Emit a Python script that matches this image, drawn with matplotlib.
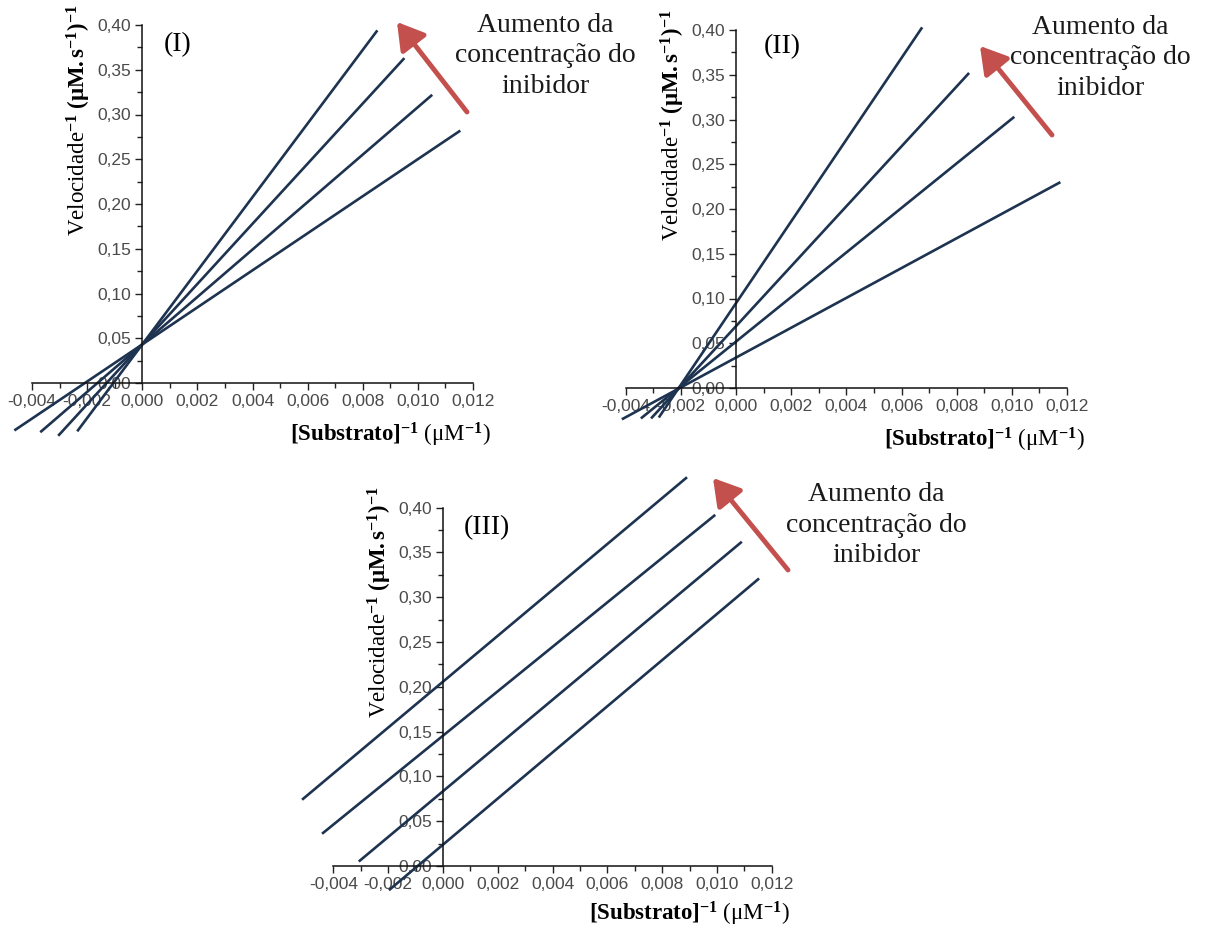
import matplotlib
matplotlib.use("Agg")
import matplotlib.pyplot as plt
from matplotlib.ticker import MultipleLocator, FixedLocator, FixedFormatter
from matplotlib.patches import FancyArrowPatch

plt.rcParams["font.family"] = ["Liberation Serif", "DejaVu Serif"]
plt.rcParams["mathtext.fontset"] = "custom"
plt.rcParams["mathtext.rm"] = "Liberation Serif"
plt.rcParams["mathtext.bf"] = "Liberation Serif:bold"
plt.rcParams["mathtext.it"] = "Liberation Serif:italic"

# Lineweaver-Burk lines, one per inhibitor concentration (start/end points)
# (I) competitive: common y-intercept
comp_x_start = [-0.00236, -0.00305, -0.0037, -0.00464]
comp_y_start = [-0.054, -0.059, -0.055, -0.053]
comp_x_end = [0.00853, 0.00951, 0.01052, 0.01154]
comp_y_end = [0.394, 0.363, 0.322, 0.282]

# (II) non-competitive: common x-intercept
noncomp_x_start = [-0.0028, -0.00308, -0.00345, -0.00414]
noncomp_y_start = [-0.033, -0.034, -0.034, -0.035]
noncomp_x_end = [0.00675, 0.00845, 0.01009, 0.01176]
noncomp_y_end = [0.403, 0.352, 0.303, 0.230]

# (III) uncompetitive: parallel lines
uncomp_x_start = [-0.00514, -0.00441, -0.00307, -0.00197]
uncomp_y_start = [0.074, 0.036, 0.005, -0.027]
uncomp_x_end = [0.00891, 0.00994, 0.01091, 0.01154]
uncomp_y_end = [0.434, 0.392, 0.362, 0.321]

x_ticks = [-0.004, -0.002, 0.000, 0.002, 0.004, 0.006, 0.008, 0.010, 0.012]
x_tick_labels = ["-0,004", "-0,002", "0,000", "0,002", "0,004", "0,006", "0,008", "0,010", "0,012"]
y_ticks = [0.00, 0.05, 0.10, 0.15, 0.20, 0.25, 0.30, 0.35, 0.40]
y_tick_labels = ["0,00", "0,05", "0,10", "0,15", "0,20", "0,25", "0,30", "0,35", "0,40"]

note_text = "Aumento da\nconcentração do\ninibidor"

LINE_COLOR = "#1d3350"
ARROW_COLOR = "#c4504e"
TICK_COLOR = "#4a4a4a"

W, H = 1221, 931
fig = plt.figure(figsize=(W / 100, H / 100), dpi=100)


def px_rect(x0, x1, y_top, y_bot):
    return [x0 / W, 1 - y_bot / H, (x1 - x0) / W, (y_bot - y_top) / H]


def panel(rect, xs, ys, xe, ye, tag, tag_pos, xlab_y):
    ax = fig.add_axes(rect)
    for a, b, c, d in zip(xs, ys, xe, ye):
        ax.plot([a, c], [b, d], color=LINE_COLOR, lw=1.9, clip_on=False,
                solid_capstyle="butt")
    ax.set_xlim(-0.004, 0.012)
    ax.set_ylim(0, 0.40)
    ax.patch.set_visible(False)

    for s in ["top", "right"]:
        ax.spines[s].set_visible(False)
    ax.spines["left"].set_position(("data", 0))
    ax.spines["bottom"].set_position(("data", 0))
    for s in ["left", "bottom"]:
        ax.spines[s].set_linewidth(1.1)
        ax.spines[s].set_color("#111111")

    ax.xaxis.set_major_locator(FixedLocator(x_ticks))
    ax.xaxis.set_major_formatter(FixedFormatter(x_tick_labels))
    ax.yaxis.set_major_locator(FixedLocator(y_ticks))
    ax.yaxis.set_major_formatter(FixedFormatter(y_tick_labels))
    ax.xaxis.set_minor_locator(MultipleLocator(0.001))
    ax.yaxis.set_minor_locator(MultipleLocator(0.025))
    ax.tick_params(which="major", direction="out", length=5, width=1.0,
                   color="#222222", labelcolor=TICK_COLOR, labelsize=12.5, pad=3)
    ax.tick_params(which="minor", direction="out", length=3.5, width=1.0,
                   color="#222222")
    for lab in ax.get_xticklabels() + ax.get_yticklabels():
        lab.set_family("Liberation Sans")

    ax.text(0.107, 0.735,
            r"$\mathrm{Velocidade}^{\mathbf{-1}}\ \mathbf{(μM.s^{-1})^{-1}}$",
            transform=ax.transAxes, rotation=90, ha="center", va="center",
            fontsize=16.5)
    ax.text(1.04, xlab_y,
            r"$\mathbf{[Substrato]^{-1}}\ \mathrm{(μM}^{\mathbf{-1}}\mathrm{)}$",
            transform=ax.transAxes, ha="right", va="center", fontsize=16.5)
    ax.text(tag_pos[0], tag_pos[1], tag, transform=ax.transAxes,
            ha="center", va="center", fontsize=20)
    return ax


panel(px_rect(32, 473, 25, 383), comp_x_start, comp_y_start, comp_x_end,
      comp_y_end, "(I)", (0.331, 0.944), -0.145)
panel(px_rect(625.7, 1067, 30, 388), noncomp_x_start, noncomp_y_start,
      noncomp_x_end, noncomp_y_end, "(II)", (0.355, 0.953), -0.145)
panel(px_rect(333.3, 771.7, 507.7, 866), uncomp_x_start, uncomp_y_start,
      uncomp_x_end, uncomp_y_end, "(III)", (0.351, 0.945), -0.135)

# notes and arrows (figure pixel positions)
for cx, cy in [(545, 56), (1100, 58), (876, 525)]:
    fig.text(cx / W, 1 - cy / H, note_text, ha="center", va="center",
             fontsize=20, linespacing=1.3, color="#1a1a1a")

for (tx, ty), (hx, hy) in [((467, 112), (397, 22)),
                           ((1052, 135), (980, 46)),
                           ((788, 570), (713, 478))]:
    arr = FancyArrowPatch((tx / W, 1 - ty / H), (hx / W, 1 - hy / H),
                          transform=fig.transFigure,
                          arrowstyle="-|>,head_length=10,head_width=6",
                          mutation_scale=1.6, lw=3.5, color=ARROW_COLOR,
                          shrinkA=0, shrinkB=0)
    fig.patches.append(arr)

fig.savefig("out.png", dpi=100, facecolor="white")
